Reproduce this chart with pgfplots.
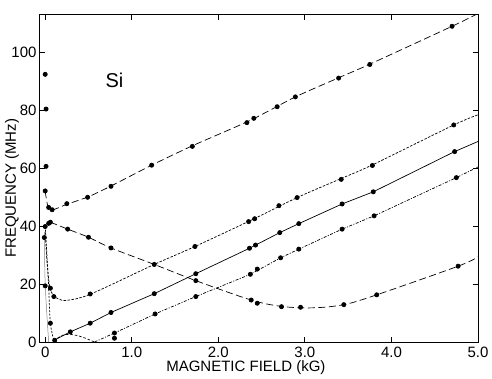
\documentclass[border=0pt]{standalone}
\usepackage{pgfplots}
\pgfplotsset{compat=1.18}
\usetikzlibrary{calc}
\usepackage{fontspec}
\setmainfont{Liberation Sans}
\begin{document}
\begin{tikzpicture}[x=1pt,y=1pt]
\begin{axis}[
  scale only axis, width=438pt, height=327pt,
  xmin=-0.06, xmax=5.0, ymin=0, ymax=113,
  xtick={0,1,2,3,4,5}, xticklabels={0,1.0,2.0,3.0,4.0,5.0},
  ytick={0,20,40,60,80,100},
  tick align=inside, major tick length=5pt,
  tick style={black, line width=0.8pt},
  axis line style={line width=1pt},
  /pgf/number format/assume math mode=true,
  tick label style={font=\fontsize{15}{16}\selectfont},
  xticklabel style={yshift=-1pt},
  label style={font=\fontsize{15}{16}\selectfont},
  xlabel={MAGNETIC FIELD (kG)},
  ylabel={FREQUENCY (MHz)},
  xlabel style={at={(axis description cs:0.47,-0.0795)}, anchor=center},
  ylabel style={at={(axis description cs:-0.064,0.47)}, anchor=center},
  clip mode=individual,
  every axis plot/.append style={black, line width=0.7pt},
]
% ---- curves ----
% A: upper long-dashed
\addplot[dash pattern=on 7pt off 3.5pt, smooth, tension=0.4] coordinates {
 (0,52) (0.03,47) (0.08,45.6) (0.25,47.6) (0.5,50.2) (0.76,53.9) (1.23,61.1)
 (1.7,67.8) (2.37,76.6) (2.89,84.7) (3.39,91.3) (3.75,96.0) (4.7,109.1) (5.0,113.5)};
% B: descending long-dashed
\addplot[dash pattern=on 7pt off 3.5pt, smooth, tension=0.5] coordinates {
 (0.06,41.4) (0.26,39.0) (0.5,36.2) (0.76,32.5) (1.26,26.8) (1.74,21.2)
 (2.38,14.5) (2.73,12.3) (3.09,11.8) (3.45,12.9) (3.83,16.3) (4.77,26.2) (5.0,29.4)};
% C: short-dashed
\addplot[dash pattern=on 2.5pt off 1.5pt, smooth, tension=0.5] coordinates {
 (0.0,38) (0.02,28) (0.05,19.5) (0.09,16.2) (0.16,14.8) (0.25,14.4) (0.52,16.5)
 (1.26,26.8) (1.73,33.0) (2.38,42.1) (2.91,49.9) (3.42,56.5) (3.78,61.2) (4.72,75.0) (5.0,78.5)};
% D: solid
\addplot[solid] coordinates {
 (0.11,0.7) (0.29,3.5) (0.52,6.5) (0.76,10.2) (1.26,16.7) (1.74,23.6) (2.36,32.4)
 (2.71,37.8) (2.93,40.9) (3.43,47.7) (3.79,51.9) (4.73,65.8) (5.0,69.3)};
% E: dash-dot
\addplot[dash pattern=on 3pt off 1.5pt on 1pt off 1.5pt] coordinates {
 (0.57,0) (0.8,3.1) (1.27,9.7) (1.74,15.7) (2.37,23.4) (2.72,29.1) (2.93,32.1)
 (3.43,39.0) (3.8,43.6) (4.75,56.8) (5.0,60.5)};
% steep dashed near B=0 and hump
\addplot[dash pattern=on 2pt off 1.5pt, smooth, tension=0.5] coordinates {
 (0.0,40) (0.02,30) (0.04,19) (0.06,6.5) (0.10,0.5)};
\addplot[dash pattern=on 2.5pt off 2pt, smooth, tension=0.6] coordinates {
 (0.10,0.5) (0.2,2.3) (0.3,2.6) (0.42,1.8) (0.57,0)};
% thin solid grey near axis
\addplot[gray, line width=0.5pt, smooth] coordinates {
 (-0.01,38) (0.0,20) (0.04,0)};
% ---- data points ----
\addplot[only marks, mark=*, mark size=2.1pt] coordinates {
 (0,92.5) (0.01,80.5) (0.01,60.7) (0,52.2) (0.04,46.5) (0.08,45.7)
 (0.25,47.8) (0.49,50.0) (0.76,53.8) (1.23,61.1) (1.70,67.6) (2.33,75.8) (2.41,77.3)
 (2.68,81.3) (2.89,84.7) (3.39,91.2) (3.75,95.9) (4.70,109.1)
 (0.0,39.9) (-0.01,36.1) (0.04,41.0) (0.06,41.4) (0.26,39.0) (0.50,36.2) (0.76,32.5)
 (1.26,26.8) (1.74,21.2) (2.38,14.5) (2.45,13.4) (2.73,12.2) (2.95,12.0) (3.45,12.9)
 (3.83,16.3) (4.77,26.2)
 (0.0,19.4) (0.06,18.6) (0.10,15.7) (0.52,16.6) (1.73,33.0) (2.35,41.6) (2.42,42.6)
 (2.70,47.1) (2.91,49.9) (3.42,56.2) (3.78,61.0) (4.72,75.0)
 (0.06,6.5) (0.11,0.6) (0.29,3.5) (0.52,6.5) (0.76,10.2) (1.26,16.7) (1.74,23.6)
 (2.36,32.4) (2.43,33.5) (2.71,37.8) (2.93,40.9) (3.43,47.7) (3.79,51.9) (4.73,65.8)
 (0.80,3.1) (0.80,1.3) (1.27,9.7) (1.74,15.7) (2.37,23.4) (2.45,25.2) (2.72,29.1)
 (2.93,32.1) (3.43,39.0) (3.80,43.6) (4.75,56.8)};
\node[font=\fontsize{20}{22}\selectfont] at (axis cs:0.8,90.5) {Si};
\end{axis}
\pgfresetboundingbox
\path (current axis.south west) ++(-40pt,-36pt) rectangle ($(current axis.north east)+(14pt,15pt)$);
\end{tikzpicture}
\end{document}
